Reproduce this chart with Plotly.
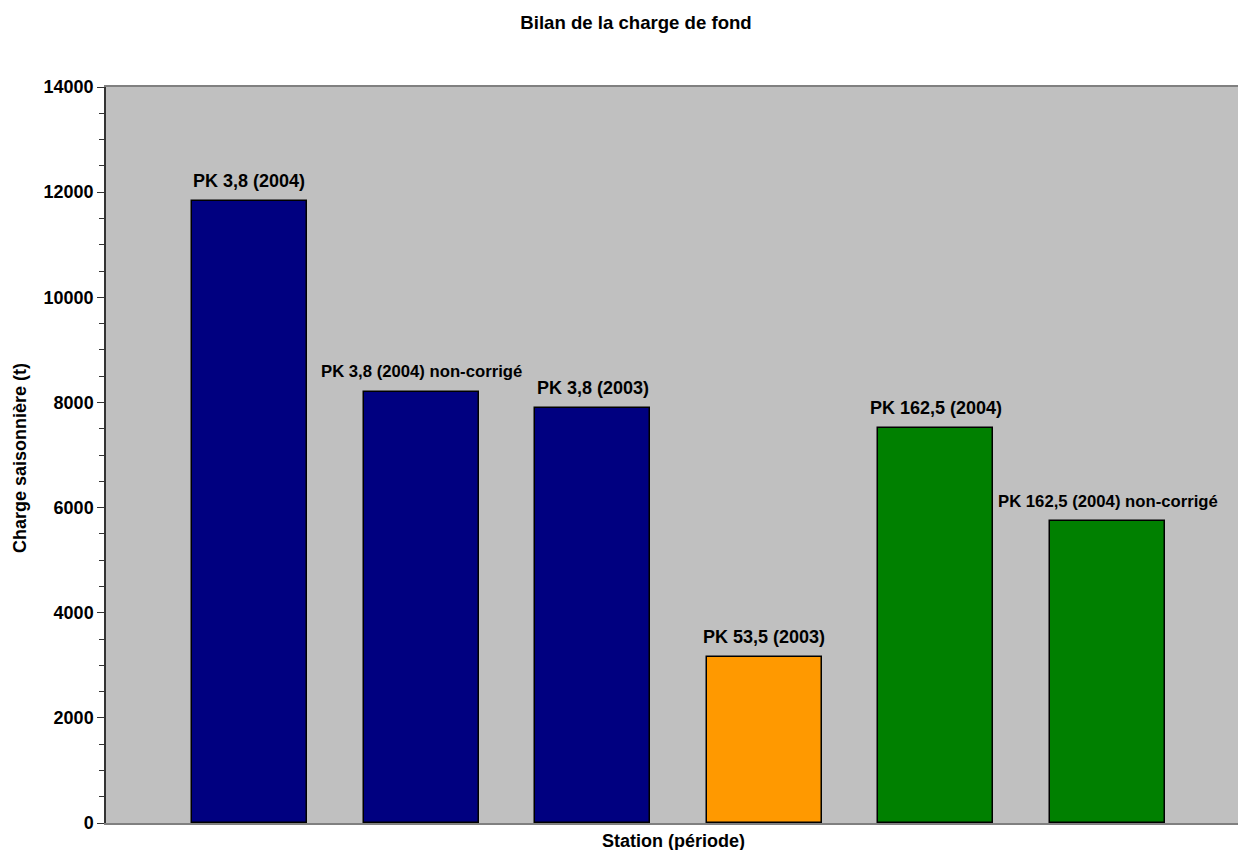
import plotly.graph_objects as go

# Seasonal bedload per station / period
stations = [
    "PK 3,8 (2004)",
    "PK 3,8 (2004) non-corrigé",
    "PK 3,8 (2003)",
    "PK 53,5 (2003)",
    "PK 162,5 (2004)",
    "PK 162,5 (2004) non-corrigé",
]
charge = [11830, 8200, 7890, 3160, 7510, 5740]
colors = ["#000080", "#000080", "#000080", "#FF9900", "#008000", "#008000"]
label_sizes = [18, 16.7, 18, 18, 18, 16.7]

FONT = "Liberation Sans, Arial, sans-serif"

# plot-area pixel box
plot_l, plot_r, plot_t, plot_b = 106, 1238, 87, 823
W, H = 1238, 850

fig = go.Figure()
fig.add_trace(go.Bar(
    x=list(range(len(stations))),
    y=charge,
    width=0.67,
    marker=dict(color=colors, line=dict(color="#000000", width=1.5)),
    hoverinfo="text",
    hovertext=[f"{s}: {v}" for s, v in zip(stations, charge)],
    showlegend=False,
))

for i, (name, val) in enumerate(zip(stations, charge)):
    fig.add_annotation(
        x=i, y=val, xref="x", yref="y",
        text=name, showarrow=False,
        yanchor="middle", yshift=20,
        font=dict(family=FONT, size=label_sizes[i], color="#000000", weight="bold"),
    )

# axis titles placed in paper coordinates
fig.add_annotation(
    x=(673 - plot_l) / (plot_r - plot_l), y=-(841 - plot_b) / (plot_b - plot_t),
    xref="paper", yref="paper", xanchor="center", yanchor="middle",
    text="Station (période)", showarrow=False,
    font=dict(family=FONT, size=18, color="#000000", weight="bold"),
)
fig.add_annotation(
    x=-(plot_l - 20) / (plot_r - plot_l), y=(plot_b - 458) / (plot_b - plot_t),
    xref="paper", yref="paper", xanchor="center", yanchor="middle",
    text="Charge saisonnière (t)", showarrow=False, textangle=-90,
    font=dict(family=FONT, size=18, color="#000000", weight="bold"),
)

fig.update_layout(
    width=W, height=H,
    margin=dict(l=plot_l, r=W - plot_r, t=plot_t, b=H - plot_b),
    paper_bgcolor="#FFFFFF",
    plot_bgcolor="#C0C0C0",
    bargap=0,
    title=dict(
        text="Bilan de la charge de fond",
        x=636 / W, xanchor="center",
        y=1 - 22 / H, yanchor="middle",
        font=dict(family=FONT, size=18.6, color="#000000", weight="bold"),
    ),
    xaxis=dict(
        range=[-0.836, 5.76],
        showticklabels=False, ticks="",
        showgrid=False, zeroline=False,
        showline=True, linecolor="#808080", linewidth=2, mirror=True,
    ),
    yaxis=dict(
        range=[0, 14000],
        tickmode="linear", tick0=0, dtick=2000, tickformat="d",
        ticks="outside", ticklen=7, tickwidth=1.2, tickcolor="#333333",
        minor=dict(dtick=500, ticks="outside", ticklen=5, tickwidth=1,
                   tickcolor="#333333", showgrid=False),
        showgrid=False, zeroline=False,
        showline=True, linecolor="#333333", linewidth=1.5,
        tickfont=dict(family=FONT, size=18, color="#000000", weight="bold"),
    ),
)

fig.write_html("out.html")
